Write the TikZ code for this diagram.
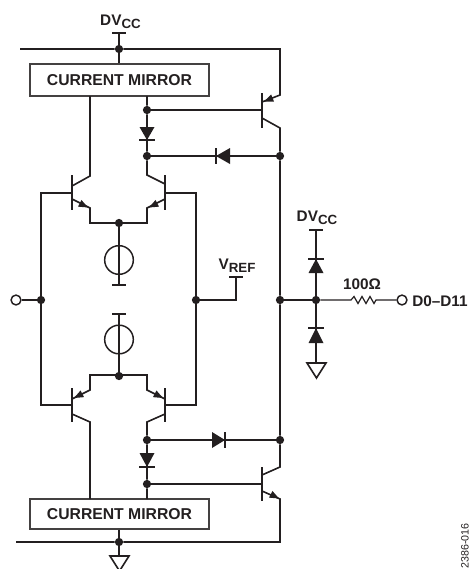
\documentclass[tikz,border=0pt]{standalone}
\usepackage{fontspec}
\setmainfont{Liberation Sans}
\definecolor{ink}{RGB}{35,31,32}
\newcommand{\vlab}[2]{\textbf{#1}\raisebox{-0.25em}{\textbf{\fontsize{10}{11}\selectfont #2}}}
\tikzset{
  wire/.style={line width=1.2pt,draw=ink,line join=miter},
  thin wire/.style={line width=1.1pt,draw=ink},
  dotn/.style={circle,fill=ink,inner sep=0pt,minimum size=6.2pt},
  openc/.style={circle,draw=ink,line width=1.1pt,fill=white,inner sep=0pt,minimum size=7.4pt},
  mirror/.style={draw=ink!85,line width=1.1pt,minimum width=134pt,inner sep=0pt,font=\bfseries\fontsize{11.8}{12}\selectfont,text=ink},
  lab/.style={font=\bfseries\fontsize{11.5}{12}\selectfont,text=ink,inner sep=0pt},
  srcc/.style={circle,draw=ink,line width=1.1pt,minimum size=21.5pt,inner sep=0pt},
}
\newcommand{\diodeV}[3]{% x, base y, tip y
  \fill[ink] (#1-7.5,#2) -- (#1+7.5,#2) -- (#1,#3) -- cycle;
  \draw[thin wire] (#1-8,#3) -- (#1+8,#3);}
\newcommand{\diodeH}[3]{% y, base x, tip x
  \fill[ink] (#2,#1-8) -- (#2,#1+8) -- (#3,#1) -- cycle;
  \draw[thin wire] (#3,#1-8) -- (#3,#1+8);}
% arrowhead: tip, direction from tip towards its base
\newcommand{\ahead}[2]{\fill[ink] (#1) -- +(#2-22:10) -- +(#2+22:10) -- cycle;}
\begin{document}
\begin{tikzpicture}[x=0.75pt,y=-0.75pt]
\useasboundingbox (0,0) rectangle (472,569);
% junctions
\node[dotn] (jt) at (119,49) {};
\node[dotn] (jb) at (119,542) {};
\node[dotn] (a1) at (147,110) {};
\node[dotn] (a2) at (147,156) {};
\node[dotn] (r1) at (280,156) {};
\node[dotn] (e1) at (119,223) {};
\node[dotn] (e2) at (119,376) {};
\node[dotn] (l0) at (41,300) {};
\node[dotn] (m0) at (196,300) {};
\node[dotn] (r0) at (280,300) {};
\node[dotn] (o0) at (316,300) {};
\node[dotn] (b1) at (147,440) {};
\node[dotn] (b2) at (147,484) {};
\node[dotn] (r2) at (280,440) {};
\node[openc] (inp) at (16,300) {};
\node[openc] (outp) at (402,300) {};
% boxes
\node[mirror,minimum height=24pt] (cmt) at (119.5,80) {CURRENT MIRROR};
\node[mirror,minimum height=22.5pt] (cmb) at (119.5,514) {CURRENT MIRROR};
% sources
\node[srcc] (s1) at (119,260) {};
\node[srcc] (s2) at (119,339.5) {};
% free ends
\coordinate (capT) at (119,33);
\coordinate (capS1) at (119,285);
\coordinate (capS2) at (119,314);
\coordinate (capR) at (236,277);
\coordinate (capD) at (316,230);
\coordinate (gndD) at (316,363);
\coordinate (gndB) at (119,556);
% labels
\node[lab,anchor=base] (dv1) at (120.5,25) {\vlab{DV}{CC}};
\node[lab,anchor=base] (dv2) at (317,221) {\vlab{DV}{CC}};
\node[lab,anchor=base] (vr) at (237,269) {\vlab{V}{REF}};
\node[lab,anchor=base] (ohm) at (362,289) {100Ω};
\node[lab,anchor=west] (dd) at (412,301) {D0–D11};
\node[rotate=90,anchor=center,inner sep=0pt,text=ink,font=\fontsize{8}{9}\selectfont] (code) at (465,546) {2386-016};
% rails and wires
\draw[wire] (20,49) -- (jt) -- (280,49) -- (280,95) -- (262,102);
\draw[wire] (16,542) -- (jb) -- (280,542) -- (280,499) -- (262,491);
\draw[wire] (capT) -- (jt) -- (cmt.north-|jt);
\draw[wire] (cmb.south-|jb) -- (jb) -- (gndB);
\draw[wire] (112,33) -- (126,33);
% right vertical
\draw[wire] (262,118) -- (280,128) -- (r1) -- (r0) -- (r2) -- (280,467) -- (262,475);
% top right transistor
\draw[wire] (262,93) -- (262,128);
\draw[wire] (a1) -- (262,110);
% bottom right transistor
\draw[wire] (262,467) -- (262,501);
\draw[wire] (b2) -- (262,484);
% top branch
\draw[wire] (90,96) -- (90,176) -- (72,186);
\draw[wire] (147,96) -- (a1) -- (a2) -- (147,175) -- (165,184);
\draw[wire] (72,175) -- (72,210);
\draw[wire] (165,175) -- (165,210);
\draw[wire] (72,199) -- (90,208) -- (90,223) -- (147,223) -- (147,208) -- (165,199);
\draw[wire] (a2) -- (r1);
\draw[wire] (e1) -- (s1) -- (capS1);
\draw[wire] (s1.north) -- (s1.south);
\draw[wire] (112,285) -- (126,285);
% bases
\draw[wire] (72,193) -- (41,193) -- (l0) -- (41,405) -- (72,405);
\draw[wire] (165,193) -- (196,193) -- (m0) -- (196,405) -- (165,405);
\draw[wire] (inp) -- (l0);
\draw[wire] (m0) -- (236,300) -- (capR);
\draw[wire] (229,277) -- (243,277);
% lower branch
\draw[wire] (capS2) -- (s2) -- (e2);
\draw[wire] (s2.north) -- (s2.south);
\draw[wire] (112,314) -- (126,314);
\draw[wire] (72,388) -- (72,422);
\draw[wire] (165,388) -- (165,422);
\draw[wire] (72,399) -- (90,390) -- (90,375) -- (147,375) -- (147,390) -- (165,399);
\draw[wire] (72,414) -- (90,422) -- (90,499);
\draw[wire] (165,414) -- (147,422) -- (b1) -- (b2) -- (147,499);
\draw[wire] (b1) -- (r2);
% output
\draw[wire] (r0) -- (o0);
\draw[wire,line width=0.9pt] (o0) -- (351,300) -- ++(3,-3.5) -- ++(4,7) -- ++(4,-7) -- ++(4,7) -- ++(4,-7) -- ++(4,7) -- ++(2,-3.5) -- (outp);
\draw[wire] (capD) -- (o0) -- (gndD);
\draw[wire] (309,230) -- (323,230);
% diodes
\diodeV{147}{127}{140}
\diodeV{147}{453}{467}
\diodeH{156}{230}{216}
\diodeH{440}{212}{225}
\diodeV{316}{273}{259}
\diodeV{316}{343}{328}
% grounds
\draw[wire,fill=white] (307,363) -- (326,363) -- (316.5,378) -- cycle;
\begin{scope}
\clip (0,0) rectangle (472,569);
\draw[wire,fill=white] (110,556) -- (129,556) -- (119.5,571) -- cycle;
\end{scope}
% arrowheads
\ahead{264,101.5}{-22}
\ahead{88,207.5}{207}
\ahead{149,207.5}{-27}
\ahead{74,398}{-27}
\ahead{163,398}{207}
\ahead{279,498.5}{207}
\end{tikzpicture}
\end{document}
